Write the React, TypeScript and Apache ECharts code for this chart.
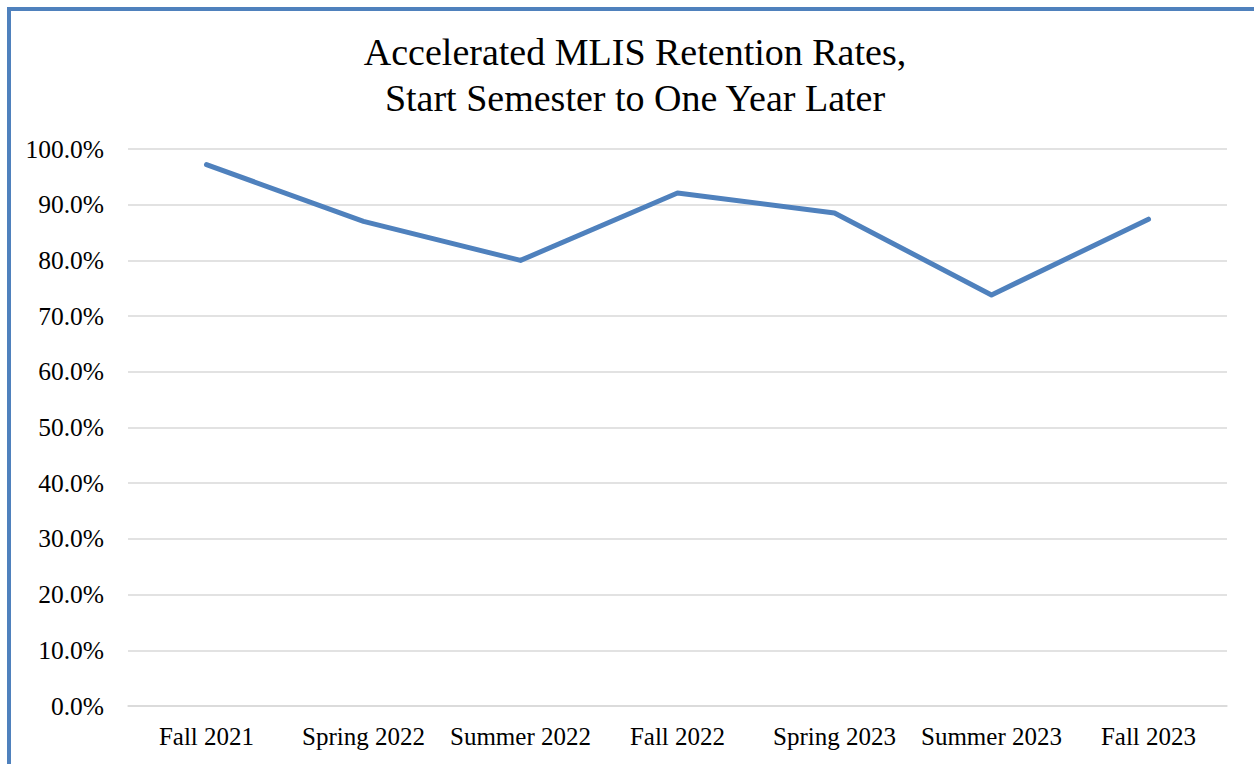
import React, { useEffect, useRef } from "react";
import * as echarts from "echarts";

const categories: string[] = [
  "Fall 2021",
  "Spring 2022",
  "Summer 2022",
  "Fall 2022",
  "Spring 2023",
  "Summer 2023",
  "Fall 2023",
];

const retentionRates: number[] = [97.2, 87.0, 80.0, 92.1, 88.5, 73.8, 87.4];

const titleLines: string[] = [
  "Accelerated MLIS Retention Rates,",
  "Start Semester to One Year Later",
];

const FONT = "'Liberation Serif', 'DejaVu Serif', serif";

export default function App() {
  const ref = useRef<HTMLDivElement>(null);

  useEffect(() => {
    if (!ref.current) return;
    const chart = echarts.init(ref.current, undefined, { renderer: "svg" });
    chart.setOption({
      animation: false,
      backgroundColor: "#ffffff",
      title: {
        text: titleLines.join("\n"),
        left: 630,
        textAlign: "center",
        top: 24,
        textStyle: {
          fontFamily: FONT,
          fontSize: 38,
          fontWeight: "normal",
          color: "#000000",
          lineHeight: 46,
        },
      },
      graphic: [
        {
          type: "rect",
          shape: { x: 9, y: 9, width: 1400, height: 900 },
          style: { fill: "none", stroke: "#4F81BD", lineWidth: 4 },
          silent: true,
        },
      ],
      grid: {
        left: 128,
        right: 27,
        top: 149,
        bottom: 58,
        containLabel: false,
      },
      xAxis: {
        type: "category",
        data: categories,
        boundaryGap: true,
        axisLine: { show: true, lineStyle: { color: "#D9D9D9", width: 1.5 } },
        axisTick: { show: false },
        axisLabel: {
          fontFamily: FONT,
          fontSize: 25,
          color: "#000000",
          margin: 18,
          interval: 0,
        },
      },
      yAxis: {
        type: "value",
        min: 0,
        max: 100,
        interval: 10,
        axisLine: { show: false },
        axisTick: { show: false },
        splitLine: { lineStyle: { color: "#D9D9D9", width: 1.5 } },
        axisLabel: {
          fontFamily: FONT,
          fontSize: 25.5,
          color: "#000000",
          margin: 24,
          formatter: (v: number) => v.toFixed(1) + "%",
        },
      },
      series: [
        {
          type: "line",
          data: retentionRates,
          showSymbol: false,
          symbol: "none",
          lineStyle: { color: "#4F81BD", width: 5, cap: "round", join: "round" },
        },
      ],
    });
    return () => chart.dispose();
  }, []);

  return (
    <div
      ref={ref}
      style={{ position: "absolute", left: 0, top: 0, width: 1254, height: 764 }}
    />
  );
}
